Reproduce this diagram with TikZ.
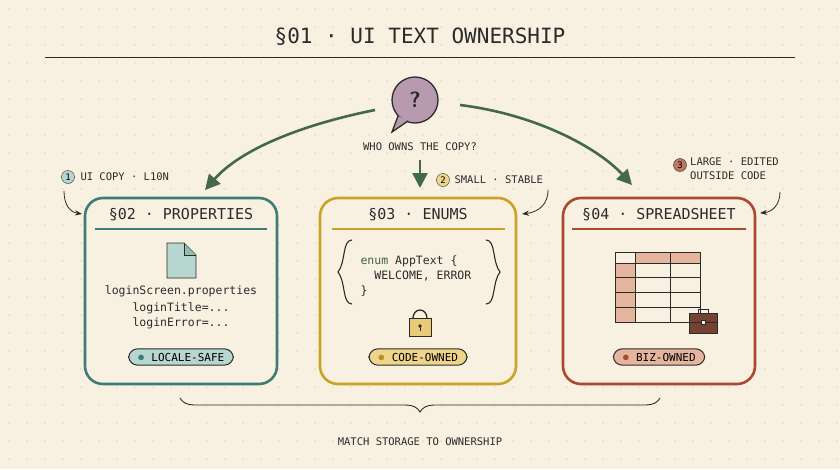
\documentclass[tikz,border=0pt]{standalone}
\usepackage{fontspec}
\setmonofont{DejaVu Sans Mono}
\usetikzlibrary{arrows.meta,decorations.pathreplacing,calc}
\definecolor{bg}{HTML}{F8F1E2}
\definecolor{ink}{HTML}{2B2B2B}
\definecolor{teal}{HTML}{3E7D74}
\definecolor{tealf}{HTML}{B7D6CF}
\definecolor{gold}{HTML}{C9A227}
\definecolor{goldf}{HTML}{EFD58A}
\definecolor{rust}{HTML}{A9492E}
\definecolor{rustf}{HTML}{E6B59E}
\definecolor{green}{HTML}{4F7A57}
\definecolor{purp}{HTML}{B79AB0}
\tikzset{
 panel/.style={draw=#1,line width=2.6pt,rounded corners=18pt,fill=bg},
 hdr/.style={font=\ttfamily\fontsize{15}{17}\selectfont,text=ink},
 small/.style={font=\ttfamily\fontsize{10.5}{14}\selectfont,text=ink,align=left},
 code/.style={font=\ttfamily\fontsize{11.5}{15}\selectfont,text=ink},
 pill/.style={draw=ink,line width=1pt,rounded corners=9pt,fill=#1,font=\ttfamily\fontsize{11}{13}\selectfont,inner xsep=9pt,inner ysep=4pt},
 num/.style={circle,draw=ink,fill=#1,inner sep=0.5pt,minimum size=13pt,font=\ttfamily\fontsize{9}{10}\selectfont},
 bigarrow/.style={draw=green!85!black,line width=2.6pt,-{Triangle[length=15pt,width=15pt]}},
 thin/.style={draw=ink,line width=0.8pt,-{Stealth[length=7pt]}}
}
\begin{document}
\begin{tikzpicture}[x=1pt,y=-1pt]
\fill[bg] (0,0) rectangle (840,469);
\useasboundingbox (0,0) rectangle (840,469);
\foreach \i in {0,...,46} \foreach \j in {0,...,26} \fill[black!25] (9+\i*18,9+\j*18) circle (0.7);
% title
\node[font=\ttfamily\fontsize{21}{24}\selectfont,text=ink] (title) at (420,37) {§01 · UI TEXT OWNERSHIP};
\draw[ink,line width=1pt] (45,57) -- (795,57);
% bubble
\node[circle,draw=ink,line width=1.3pt,fill=purp,minimum size=46pt,font=\sffamily\bfseries\fontsize{22}{24}\selectfont,text=ink] (q) at (415,100) {?};
\draw[ink,line width=1.3pt,fill=purp] (398,116) -- (392,132) -- (408,121);
\node[small] (who) at (420,147) {WHO OWNS THE COPY?};
% panels
\node[panel=teal,minimum width=192pt,minimum height=186pt] (p2) at (181,291) {};
\node[panel=gold,minimum width=196pt,minimum height=186pt] (p3) at (418,291) {};
\node[panel=rust,minimum width=192pt,minimum height=186pt] (p4) at (659,291) {};
\node[hdr] (h2) at (181,215) {§02 · PROPERTIES};
\node[hdr] (h3) at (418,215) {§03 · ENUMS};
\node[hdr] (h4) at (659,215) {§04 · SPREADSHEET};
\draw[teal,line width=1.6pt] (95,229) -- (267,229);
\draw[gold,line width=1.6pt] (332,229) -- (505,229);
\draw[rust,line width=1.6pt] (572,229) -- (746,229);
% big arrows
\draw[bigarrow] (375,110) .. controls (300,125) and (240,150) .. (205,190);
\draw[bigarrow] (460,105) .. controls (540,115) and (600,150) .. (632,185);
\draw[bigarrow] (420,160) -- (420,188);
% annotation labels
\node[num=tealf] (n1) at (68,177) {1};
\node[small,anchor=west] (l1) at (77,177) {UI COPY · L10N};
\node[num=goldf] (n2) at (443,180) {2};
\node[small,anchor=west] (l2) at (451,180) {SMALL · STABLE};
\node[num=rust!75] (n3) at (680,165) {3};
\node[small,anchor=north west,inner sep=0pt] (l3) at (690,158) {LARGE · EDITED\\OUTSIDE CODE};
\draw[thin] (64,191) .. controls (64,205) and (70,212) .. (82,214);
\draw[thin] (548,190) .. controls (548,205) and (538,212) .. (522,214);
\draw[thin] (780,192) .. controls (780,205) and (772,212) .. (760,213);
% panel 2 content
\draw[ink,line width=0.9pt,fill=tealf] (167,243) -- (184,243) -- (196,255) -- (196,278) -- (167,278) -- cycle;
\draw[ink,line width=0.9pt,fill=tealf!70!teal] (184,243) -- (184,255) -- (196,255);
\node[code] (f2) at (181,291) {loginScreen.properties};
\node[code,align=left] (k2) at (181,316) {loginTitle=...\\loginError=...};
\node[pill=tealf] (pl2) at (181,357) {\textcolor{teal}{\Large$\bullet$} LOCALE-SAFE};
% panel 3 content
\node[code,align=left,anchor=west] (c3) at (357,276) {\textcolor{green!80!black}{enum} AppText \{\\\ \ WELCOME, ERROR\\\}};
\draw[ink,line width=1.1pt] (352,240) .. controls (342,240) and (346,262) .. (338,272) .. controls (346,282) and (342,304) .. (352,304);
\draw[ink,line width=1.1pt] (486,240) .. controls (496,240) and (492,262) .. (500,272) .. controls (492,282) and (496,304) .. (486,304);
\draw[ink,line width=1.3pt] (413,318) arc (180:360:7 and 8);
\draw[ink,line width=0.9pt,fill=goldf!80!gold] (409,318) rectangle (431,336);
\fill[ink] (420,326) circle (1.8);
\draw[ink,line width=1pt] (420,326) -- (420,331);
\node[pill=goldf] (pl3) at (418,357) {\textcolor{gold!90!black}{\Large$\bullet$} CODE-OWNED};
% panel 4 content
\fill[rustf] (635,252) rectangle (700,263);
\fill[rustf] (615,263) rectangle (635,322);
\draw[ink,line width=0.9pt] (615,252) rectangle (700,322);
\foreach \y in {263,277,292,307} \draw[ink,line width=0.9pt] (615,\y) -- (700,\y);
\foreach \x in {635,670} \draw[ink,line width=0.9pt] (\x,252) -- (\x,322);
\draw[ink,line width=1pt,fill=rust!60!black!90] (689,313) rectangle (717,333);
\draw[ink,line width=1pt] (698,313) -- (698,309) -- (708,309) -- (708,313);
\draw[ink,line width=0.7pt] (689,322) -- (717,322);
\draw[ink,fill=bg,line width=0.6pt] (701,320) rectangle (705,324);
\node[pill=rustf] (pl4) at (659,357) {\textcolor{rust}{\Large$\bullet$} BIZ-OWNED};
% bottom brace
\draw[ink,line width=0.9pt,decorate,decoration={brace,amplitude=14pt,mirror}] (180,398) -- (660,398);
\node[small] (foot) at (420,442) {MATCH STORAGE TO OWNERSHIP};
\end{tikzpicture}
\end{document}
